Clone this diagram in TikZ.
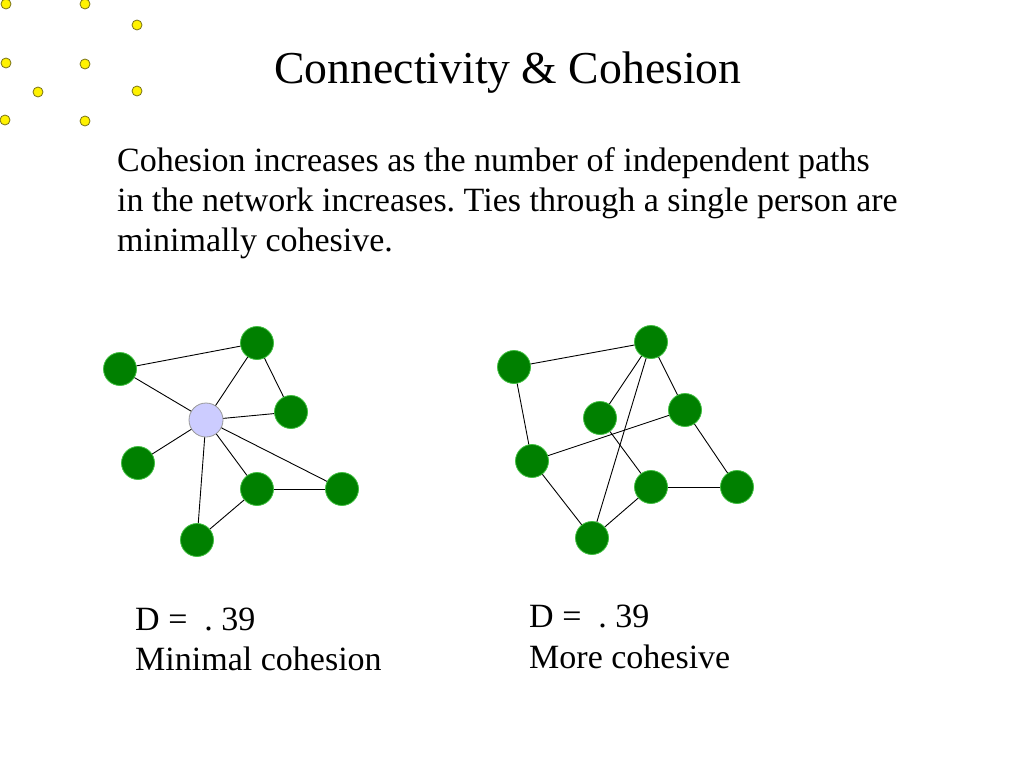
\documentclass[tikz,border=0pt]{standalone}
\usepackage{fontspec}
\setmainfont{Liberation Serif}
\frenchspacing
\begin{document}
\begin{tikzpicture}[x=1pt,y=-1pt,
  dot/.style={circle,draw=olive!80!black,fill=yellow,minimum size=10pt,inner sep=0pt,line width=0.8pt},
  gnode/.style={circle,draw=green!50!gray,fill={rgb,255:red,0;green,128;blue,0},minimum size=33pt,inner sep=0pt,line width=0.8pt},
  cnode/.style={circle,draw=gray!80,fill={rgb,255:red,204;green,204;blue,255},minimum size=34pt,inner sep=0pt,line width=0.8pt},
  tie/.style={draw=black,line width=0.9pt},
  txt/.style={inner sep=0pt,anchor=base west,font=\fontsize{34}{40}\selectfont}]
\useasboundingbox (0,0) rectangle (1024,768);
\fill[white] (0,0) rectangle (1024,768);
% yellow dots
\foreach \x/\y [count=\i] in {6/4,85/4,137/25,6/63,85/64,38/92,137/91,5/120,85/121}
  \node[dot] (y\i) at (\x,\y) {};
% title
\node[inner sep=0pt,anchor=base,font=\fontsize{45.7}{46}\selectfont] (title) at (508,83) {Connectivity \& Cohesion};
% body
\node[txt] (l1) at (117,171) {Cohesion increases as the number of independent paths};
\node[txt] (l2) at (117,211) {in the network increases. Ties through a single person are};
\node[txt] (l3) at (117,251) {minimally cohesive.};
% left graph
\node[gnode] (a) at (120,369) {};
\node[gnode] (b) at (257,343) {};
\node[cnode] (c) at (206,420) {};
\node[gnode] (d) at (291,412) {};
\node[gnode] (e) at (138,463) {};
\node[gnode] (f) at (257,489) {};
\node[gnode] (g) at (342,489) {};
\node[gnode] (h) at (197,540) {};
\foreach \u/\v in {a/b,a/c,b/c,b/d,c/d,c/e,c/f,c/g,c/h,f/g,f/h}
  \draw[tie] (\u) -- (\v);
% right graph
\node[gnode] (p1) at (514,367) {};
\node[gnode] (p2) at (651,342) {};
\node[gnode] (p3) at (600,418) {};
\node[gnode] (p4) at (685,410) {};
\node[gnode] (p5) at (532,461) {};
\node[gnode] (p6) at (651,487) {};
\node[gnode] (p7) at (737,487) {};
\node[gnode] (p8) at (592,538) {};
\foreach \u/\v in {p1/p2,p1/p5,p2/p3,p2/p8,p2/p4,p5/p4,p3/p6,p4/p7,p6/p7,p5/p8,p8/p6}
  \draw[tie] (\u) -- (\v);
% labels
\node[txt] (dl) at (135,630) {D =\ \ .\ 39};
\node[txt] (ml) at (135,670) {Minimal cohesion};
\node[txt] (dr) at (529,627) {D =\ \ .\ 39};
\node[txt] (mr) at (529,668) {More cohesive};
\end{tikzpicture}
\end{document}
